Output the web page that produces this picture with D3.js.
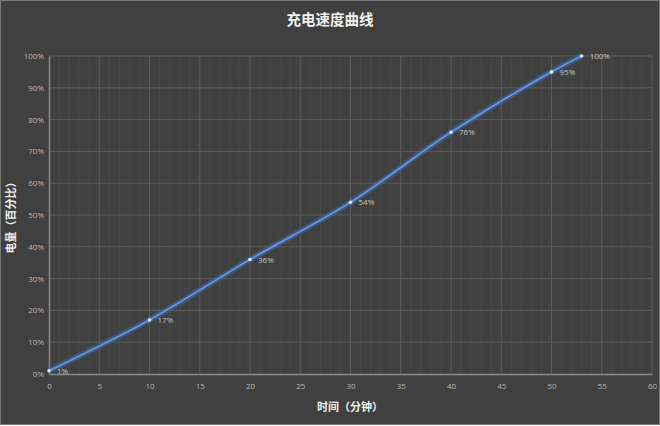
<!DOCTYPE html>
<html><head><meta charset="utf-8">
<script src="https://cdn.jsdelivr.net/npm/d3@7"></script>
<style>
html,body{margin:0;padding:0;background:#fff;}
svg{display:block;font-family:"Noto Sans CJK SC","Open Sans",sans-serif;}
</style></head>
<body>
<svg id="c" width="660" height="426"></svg>
<script>
const minutes = [0, 10, 20, 30, 40, 50, 53];
const charge = [1, 17, 36, 54, 76, 95, 100];
const xTicks = [0,5,10,15,20,25,30,35,40,45,50,55,60];
const yTicks = [0,10,20,30,40,50,60,70,80,90,100];
const title = "充电速度曲线";
const xTitle = "时间（分钟）";
const yTitle = "电量（百分比）";

const svg = d3.select("#c");
const W = 660, H = 426;
const m = {l:49, r:8, t:56, b:52};
svg.append("rect").attr("x",0.5).attr("y",0.5).attr("width",W-1).attr("height",H-2)
  .attr("fill","#404040").attr("stroke","#7a7a7a");

const x = d3.scaleLinear().domain([0,60]).range([m.l, W-m.r]);
const y = d3.scaleLinear().domain([0,100]).range([H-m.b, m.t]);

// minor vertical gridlines
svg.append("g").selectAll("line").data(d3.range(0,61,1).filter(d=>d%5!==0)).join("line")
  .attr("x1",d=>x(d)).attr("x2",d=>x(d)).attr("y1",y(0)).attr("y2",y(100))
  .attr("stroke","#484848").attr("stroke-width",1);
// major gridlines
svg.append("g").selectAll("line").data(xTicks.slice(1)).join("line")
  .attr("x1",d=>x(d)).attr("x2",d=>x(d)).attr("y1",y(0)).attr("y2",y(100))
  .attr("stroke","#5c5c5c").attr("stroke-width",1);
svg.append("g").selectAll("line").data(yTicks.slice(1)).join("line")
  .attr("x1",x(0)).attr("x2",x(60)).attr("y1",d=>y(d)).attr("y2",d=>y(d))
  .attr("stroke","#5c5c5c").attr("stroke-width",1);

// axes
const xAxis = svg.append("g").attr("transform",`translate(0,${y(0)})`)
  .call(d3.axisBottom(x).tickValues(xTicks).tickSize(0).tickPadding(9));
const yAxis = svg.append("g").attr("transform",`translate(${x(0)},0)`)
  .call(d3.axisLeft(y).tickValues(yTicks).tickSize(0).tickPadding(5).tickFormat(d=>d+"%"));
[xAxis,yAxis].forEach(a=>{
  a.select(".domain").attr("stroke","#8a8a8a").attr("stroke-width",1.5);
  a.selectAll("text").attr("fill","#b8b8b8").attr("font-size",8).attr("font-family","Open Sans, sans-serif");
});

// line with glow
const pts = minutes.map((d,i)=>[d,charge[i]]);
const line = d3.line().x(d=>x(d[0])).y(d=>y(d[1])).curve(d3.curveCatmullRom.alpha(0.5));
svg.append("path").attr("d",line(pts)).attr("fill","none")
  .attr("stroke","#3d66a3").attr("stroke-width",6).attr("stroke-opacity",0.6);
svg.append("path").attr("d",line(pts)).attr("fill","none")
  .attr("stroke","#6596dc").attr("stroke-width",1.8);

svg.append("g").selectAll("circle").data(pts).join("circle")
  .attr("cx",d=>x(d[0])).attr("cy",d=>y(d[1])).attr("r",1.8).attr("fill","#dfe9f8");

svg.append("g").selectAll("text").data(pts).join("text")
  .attr("x",d=>x(d[0])+8).attr("y",d=>y(d[1])+3)
  .attr("fill","#c4c4c4").attr("font-size",8).attr("font-family","Open Sans, sans-serif")
  .text(d=>d[1]+"%");

svg.append("text").attr("x",330).attr("y",25).attr("text-anchor","middle")
  .attr("fill","#f2f2f2").attr("font-size",14.5).attr("font-weight","bold").text(title);
svg.append("text").attr("x",350).attr("y",411).attr("text-anchor","middle")
  .attr("fill","#f2f2f2").attr("font-size",11).attr("font-weight","bold").text(xTitle);
svg.append("text").attr("transform",`translate(15,${(y(0)+y(100))/2}) rotate(-90)`).attr("text-anchor","middle")
  .attr("fill","#f2f2f2").attr("font-size",11).attr("font-weight","bold").text(yTitle);
</script>
</body></html>
